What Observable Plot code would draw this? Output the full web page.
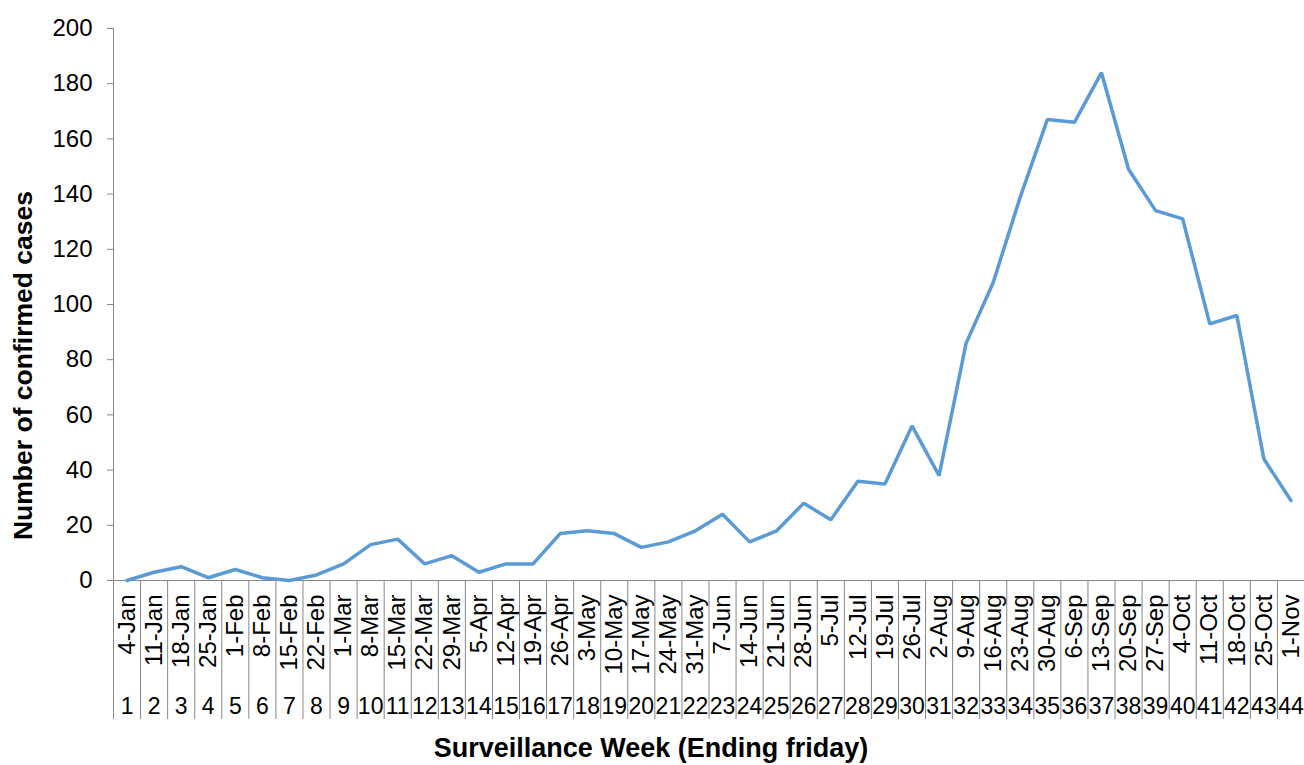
<!DOCTYPE html>
<html>
<head>
<meta charset="utf-8">
<script src="https://cdn.jsdelivr.net/npm/d3@7"></script>
<script src="https://cdn.jsdelivr.net/npm/@observablehq/plot@0.6"></script>
<style>
  html, body { margin: 0; padding: 0; background: #fff; }
  #chart svg { display: block; }
</style>
</head>
<body>
<div id="chart"></div>
<script>
const weeks = d3.range(1, 45);
const dates = ["4-Jan","11-Jan","18-Jan","25-Jan","1-Feb","8-Feb","15-Feb","22-Feb","1-Mar","8-Mar","15-Mar","22-Mar","29-Mar","5-Apr","12-Apr","19-Apr","26-Apr","3-May","10-May","17-May","24-May","31-May","7-Jun","14-Jun","21-Jun","28-Jun","5-Jul","12-Jul","19-Jul","26-Jul","2-Aug","9-Aug","16-Aug","23-Aug","30-Aug","6-Sep","13-Sep","20-Sep","27-Sep","4-Oct","11-Oct","18-Oct","25-Oct","1-Nov"];
const cases = [0,3,5,1,4,1,0,2,6,13,15,6,9,3,6,6,17,18,17,12,14,18,24,14,18,28,22,36,35,56,38,86,108,139,167,166,184,149,134,131,93,96,44,29];
const yTicks = [0,20,40,60,80,100,120,140,160,180,200];
const xTitle = "Surveillance Week (Ending friday)";
const yTitle = "Number of confirmed cases";

const data = weeks.map((w, i) => ({week: w, date: dates[i], cases: cases[i]}));
const boundaries = weeks.map(w => w - 0.5).concat([weeks.length + 0.5]);

const axisGray = "#868686";

const chart = Plot.plot({
  width: 1304,
  height: 765,
  marginLeft: 113,
  marginRight: 0,
  marginTop: 28,
  marginBottom: 185,
  style: {fontFamily: "'Liberation Sans', Arial, sans-serif", fontSize: "23px", color: "black", background: "white"},
  x: {type: "linear", domain: [0.5, weeks.length + 0.5]},
  y: {domain: [0, 200]},
  marks: [
    Plot.axisY(yTicks, {tickSize: 6, tickPadding: 15, stroke: axisGray, fill: "black", label: null, fontSize: 24}),
    Plot.ruleX([0.5], {stroke: axisGray}),
    Plot.axisX(boundaries, {tickSize: 139, tickFormat: () => "", stroke: axisGray, label: null}),
    Plot.axisX(weeks, {tickSize: 0, tickPadding: 14, tickRotate: -90, tickFormat: w => dates[w - 1], fill: "black", label: null, fontSize: 24}),
    Plot.axisX(weeks, {tickSize: 0, tickPadding: 117, tickFormat: w => String(w), fill: "black", label: null, fontSize: 23}),
    Plot.ruleY([0], {stroke: axisGray}),
    Plot.lineY(data, {x: "week", y: "cases", stroke: "#5B9BD5", strokeWidth: 3.5, strokeLinejoin: "miter"}),
    Plot.text([xTitle], {frameAnchor: "bottom", dx: -58, dy: 176, fontWeight: "bold", fontSize: 27, fill: "black"}),
    Plot.text([yTitle], {frameAnchor: "left", rotate: -90, textAnchor: "middle", dx: -90, dy: 61, fontWeight: "bold", fontSize: 26.5, fill: "black"})
  ]
});
document.getElementById("chart").append(chart);
</script>
</body>
</html>
